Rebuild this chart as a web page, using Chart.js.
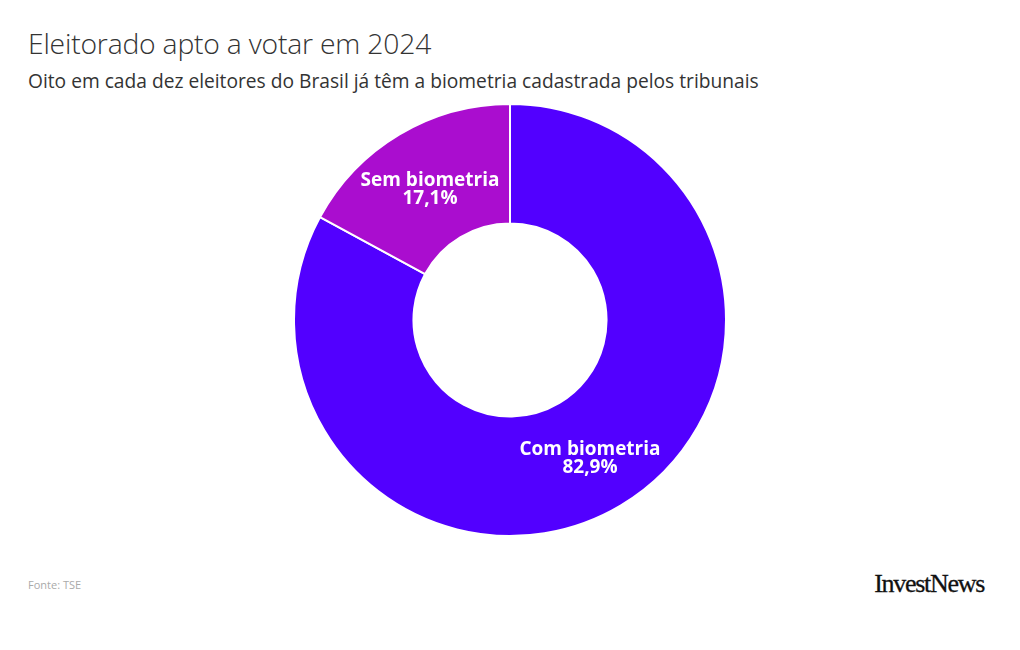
<!DOCTYPE html>
<html><head><meta charset="utf-8">
<script src="https://cdn.jsdelivr.net/npm/chart.js@4"></script>
<style>
html,body{margin:0;padding:0;background:#fff;width:1020px;height:650px;overflow:hidden;font-family:"Open Sans","Noto Sans",sans-serif;}
#title{position:absolute;left:28px;top:24px;font-size:28.3px;font-weight:300;color:#333;white-space:nowrap;letter-spacing:-0.2px;}
#sub{position:absolute;left:28px;top:67px;font-size:19.2px;color:#333;white-space:nowrap;letter-spacing:0px;}
#src{position:absolute;left:28px;top:577px;font-size:11px;color:#aaa;}
#logo{position:absolute;right:36px;top:569px;font-family:"Liberation Serif","DejaVu Serif",serif;font-size:26px;color:#111;letter-spacing:-1.3px;-webkit-text-stroke:0.3px #111;}
#wrap{position:absolute;left:293px;top:103px;width:434px;height:434px;}
</style></head>
<body>
<div id="title">Eleitorado apto a votar em 2024</div>
<div id="sub">Oito em cada dez eleitores do Brasil já têm a biometria cadastrada pelos tribunais</div>
<div id="wrap"><canvas id="c"></canvas></div>
<div id="src">Fonte: TSE</div>
<div id="logo">InvestNews</div>
<script>
const categories = ["Com biometria", "Sem biometria"];
const values = [82.9, 17.1];
const valueLabels = ["82,9%", "17,1%"];
const colors = ["#5200FF", "#AA0DCF"];

const labelPlugin = {
  id: 'sliceLabels',
  afterDatasetsDraw(chart) {
    const ctx = chart.ctx;
    const meta = chart.getDatasetMeta(0);
    meta.data.forEach((arc, i) => {
      const p = arc.getProps(['x','y','startAngle','endAngle','innerRadius','outerRadius'], true);
      const a = (p.startAngle + p.endAngle) / 2;
      const r = (p.innerRadius + p.outerRadius) / 2;
      const x = p.x + Math.cos(a) * r;
      const y = p.y + Math.sin(a) * r;
      ctx.save();
      ctx.fillStyle = '#fff';
      ctx.textAlign = 'center';
      ctx.textBaseline = 'middle';
      ctx.font = 'bold 19px "Open Sans", "Noto Sans", sans-serif';
      ctx.fillText(categories[i], x, y - 5);
      ctx.fillText(valueLabels[i], x, y + 13);
      ctx.restore();
    });
  }
};

new Chart(document.getElementById('c'), {
  type: 'doughnut',
  data: {
    labels: categories,
    datasets: [{
      data: values,
      backgroundColor: colors,
      borderColor: '#fff',
      borderWidth: 2,
      hoverOffset: 0
    }]
  },
  options: {
    responsive: true,
    maintainAspectRatio: false,
    animation: false,
    cutout: '44.7%',
    plugins: { legend: { display: false }, tooltip: { enabled: false } },
    layout: { padding: 0 }
  },
  plugins: [labelPlugin]
});
</script>
</body></html>
